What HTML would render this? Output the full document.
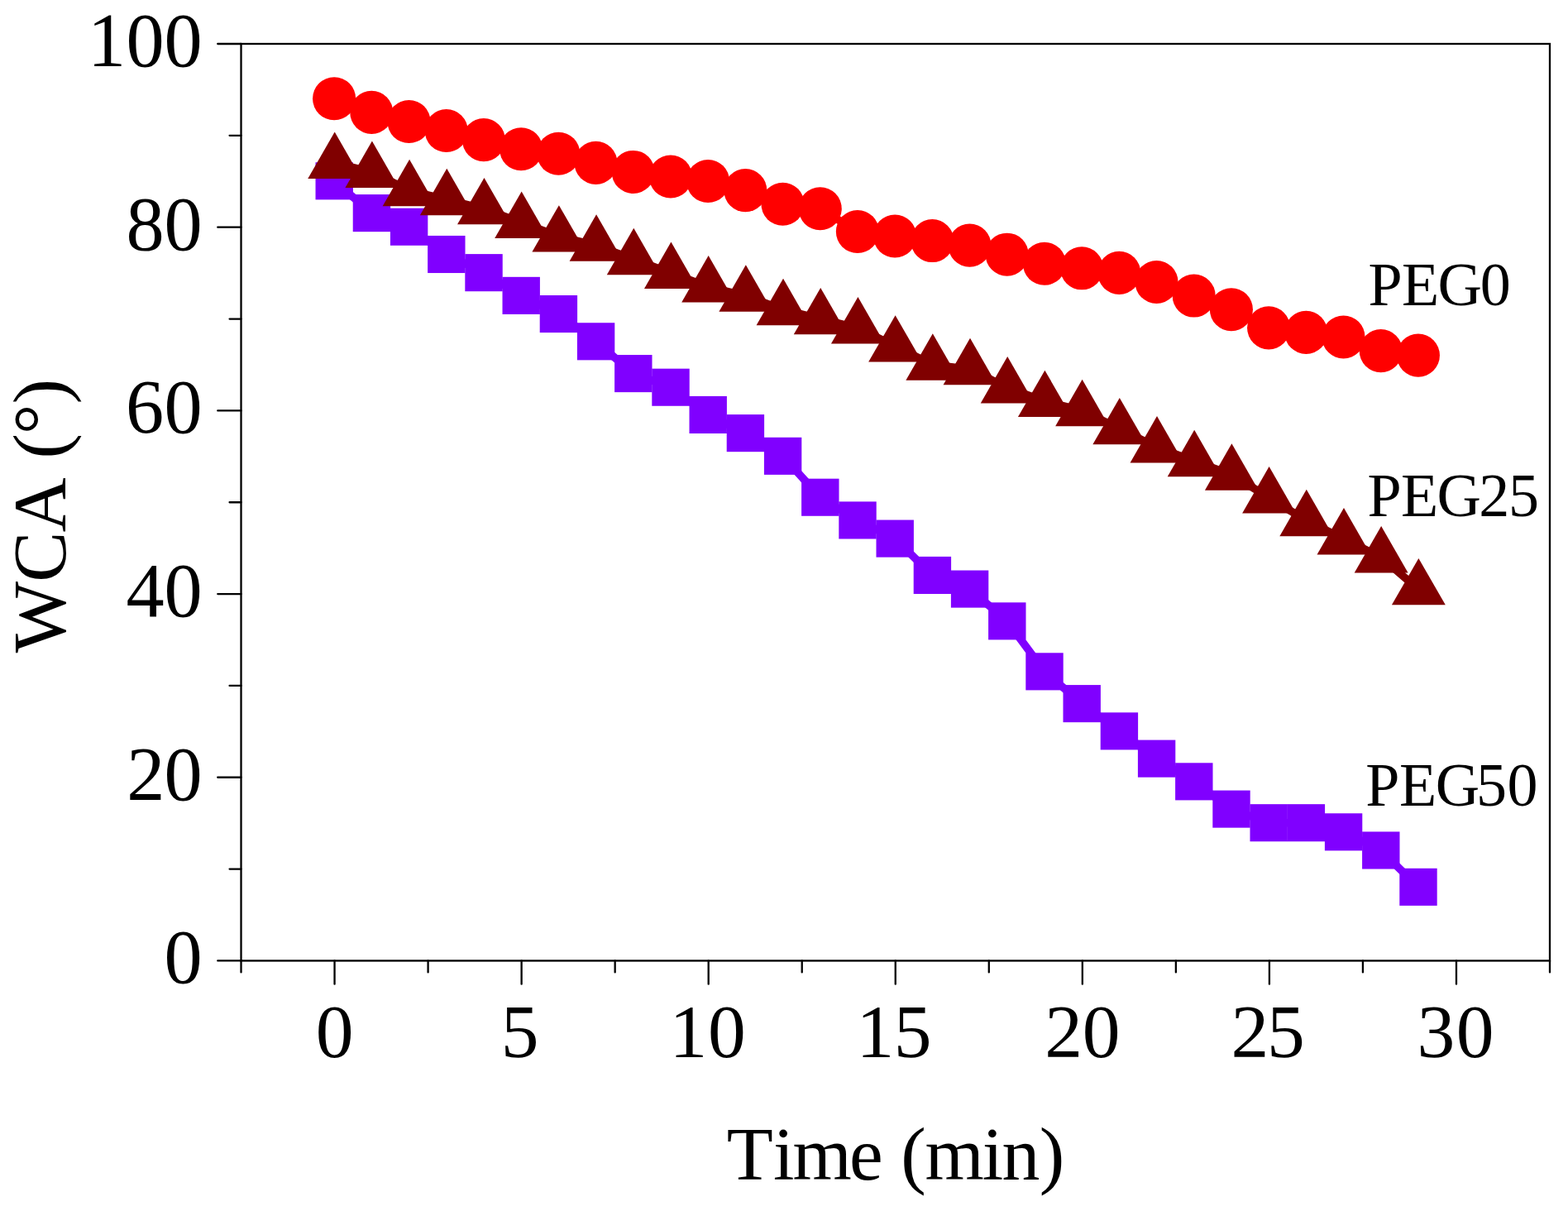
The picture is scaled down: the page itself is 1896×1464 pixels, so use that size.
<!DOCTYPE html>
<html lang="en"><head><meta charset="utf-8"><title>WCA vs Time</title>
<style>html,body{margin:0;padding:0;background:#fff;}body{width:1896px;height:1464px;overflow:hidden;}svg{display:block;}text{font-family:"Liberation Serif",serif;fill:#000;font-kerning:none;font-variant-ligatures:none;white-space:pre;}</style></head><body>
<svg width="1896" height="1464" viewBox="0 0 1896 1464">
<rect x="0" y="0" width="1896" height="1464" fill="#fff"/>
<g id="peg50" fill="#8000ff">
<polyline points="404.22,218.82 449.42,257.61 494.62,274.24 539.82,307.49 585.02,329.66 630.22,357.37 675.41,379.54 720.61,412.8 765.81,451.59 811.01,468.22 856.21,501.47 901.41,523.64 946.61,551.35 991.81,601.23 1037.01,628.94 1082.2,651.11 1127.4,695.45 1172.6,712.08 1217.8,750.87 1263,811.84 1308.2,850.63 1353.4,883.89 1398.6,917.14 1443.8,944.85 1489,978.11 1534.19,994.73 1579.39,994.73 1624.59,1005.82 1669.79,1027.99 1714.99,1072.32" fill="none" stroke="#8000ff" stroke-width="9.5" stroke-linejoin="round"/>
<rect x="381.52" y="196.27" width="45.4" height="45.1"/>
<rect x="426.72" y="235.06" width="45.4" height="45.1"/>
<rect x="471.92" y="251.69" width="45.4" height="45.1"/>
<rect x="517.12" y="284.94" width="45.4" height="45.1"/>
<rect x="562.32" y="307.11" width="45.4" height="45.1"/>
<rect x="607.51" y="334.82" width="45.4" height="45.1"/>
<rect x="652.71" y="356.99" width="45.4" height="45.1"/>
<rect x="697.91" y="390.25" width="45.4" height="45.1"/>
<rect x="743.11" y="429.04" width="45.4" height="45.1"/>
<rect x="788.31" y="445.67" width="45.4" height="45.1"/>
<rect x="833.51" y="478.92" width="45.4" height="45.1"/>
<rect x="878.71" y="501.09" width="45.4" height="45.1"/>
<rect x="923.91" y="528.8" width="45.4" height="45.1"/>
<rect x="969.11" y="578.68" width="45.4" height="45.1"/>
<rect x="1014.31" y="606.39" width="45.4" height="45.1"/>
<rect x="1059.5" y="628.56" width="45.4" height="45.1"/>
<rect x="1104.7" y="672.9" width="45.4" height="45.1"/>
<rect x="1149.9" y="689.53" width="45.4" height="45.1"/>
<rect x="1195.1" y="728.32" width="45.4" height="45.1"/>
<rect x="1240.3" y="789.29" width="45.4" height="45.1"/>
<rect x="1285.5" y="828.08" width="45.4" height="45.1"/>
<rect x="1330.7" y="861.34" width="45.4" height="45.1"/>
<rect x="1375.9" y="894.59" width="45.4" height="45.1"/>
<rect x="1421.1" y="922.3" width="45.4" height="45.1"/>
<rect x="1466.3" y="955.56" width="45.4" height="45.1"/>
<rect x="1511.49" y="972.18" width="45.4" height="45.1"/>
<rect x="1556.69" y="972.18" width="45.4" height="45.1"/>
<rect x="1601.89" y="983.27" width="45.4" height="45.1"/>
<rect x="1647.09" y="1005.44" width="45.4" height="45.1"/>
<rect x="1692.29" y="1049.77" width="45.4" height="45.1"/>
</g>
<g id="peg25" fill="#800000">
<polyline points="404.7,197.1 449.89,208.18 495.09,230.35 540.28,241.44 585.48,252.52 630.67,269.15 675.87,285.77 721.07,296.86 766.26,313.49 811.45,330.11 856.65,346.74 901.85,357.82 947.04,374.45 992.23,385.54 1037.43,396.62 1082.62,418.79 1127.82,440.96 1173.02,446.5 1218.21,468.67 1263.4,485.3 1308.6,496.38 1353.8,518.55 1398.99,540.72 1444.18,557.34 1489.38,573.97 1534.58,601.68 1579.77,629.39 1624.97,651.56 1670.16,673.73 1715.36,712.53" fill="none" stroke="#800000" stroke-width="9.5" stroke-linejoin="round" stroke-linecap="butt"/>
<polygon points="404.7,159.47 437.15,215.92 372.25,215.92"/>
<polygon points="449.89,170.55 482.34,227 417.44,227"/>
<polygon points="495.09,192.72 527.54,249.17 462.64,249.17"/>
<polygon points="540.28,203.8 572.74,260.25 507.83,260.25"/>
<polygon points="585.48,214.89 617.93,271.34 553.03,271.34"/>
<polygon points="630.67,231.51 663.12,287.96 598.22,287.96"/>
<polygon points="675.87,248.14 708.32,304.59 643.42,304.59"/>
<polygon points="721.07,259.23 753.52,315.68 688.62,315.68"/>
<polygon points="766.26,275.85 798.71,332.3 733.81,332.3"/>
<polygon points="811.45,292.48 843.9,348.93 779,348.93"/>
<polygon points="856.65,309.11 889.1,365.56 824.2,365.56"/>
<polygon points="901.85,320.19 934.3,376.64 869.39,376.64"/>
<polygon points="947.04,336.82 979.49,393.27 914.59,393.27"/>
<polygon points="992.23,347.9 1024.68,404.35 959.78,404.35"/>
<polygon points="1037.43,358.99 1069.88,415.44 1004.98,415.44"/>
<polygon points="1082.62,381.16 1115.08,437.61 1050.17,437.61"/>
<polygon points="1127.82,403.32 1160.27,459.77 1095.37,459.77"/>
<polygon points="1173.02,408.87 1205.47,465.32 1140.57,465.32"/>
<polygon points="1218.21,431.04 1250.66,487.49 1185.76,487.49"/>
<polygon points="1263.4,447.66 1295.86,504.11 1230.95,504.11"/>
<polygon points="1308.6,458.75 1341.05,515.2 1276.15,515.2"/>
<polygon points="1353.8,480.92 1386.25,537.37 1321.35,537.37"/>
<polygon points="1398.99,503.08 1431.44,559.53 1366.54,559.53"/>
<polygon points="1444.18,519.71 1476.63,576.16 1411.73,576.16"/>
<polygon points="1489.38,536.34 1521.83,592.79 1456.93,592.79"/>
<polygon points="1534.58,564.05 1567.03,620.5 1502.12,620.5"/>
<polygon points="1579.77,591.76 1612.22,648.21 1547.32,648.21"/>
<polygon points="1624.97,613.93 1657.42,670.38 1592.52,670.38"/>
<polygon points="1670.16,636.1 1702.61,692.55 1637.71,692.55"/>
<polygon points="1715.36,674.89 1747.81,731.34 1682.9,731.34"/>
</g>
<g id="peg0" fill="#ff0000">
<polyline points="404.1,119.26 449.3,135.88 494.5,146.97 539.7,158.05 584.9,169.14 630.1,180.22 675.3,185.76 720.5,196.85 765.7,207.93 810.9,213.48 856.1,219.02 901.3,230.1 946.5,246.73 991.7,252.27 1036.9,279.98 1082.1,285.52 1127.3,291.07 1172.5,296.61 1217.7,307.69 1262.9,318.78 1308.1,324.32 1353.3,329.86 1398.5,340.95 1443.7,357.57 1488.9,374.2 1534.1,396.37 1579.3,401.91 1624.5,407.45 1669.7,424.08 1714.9,429.62" fill="none" stroke="#ff0000" stroke-width="9.5" stroke-linejoin="round" stroke-linecap="butt"/>
<circle cx="404.1" cy="119.26" r="26.05"/>
<circle cx="449.3" cy="135.88" r="26.05"/>
<circle cx="494.5" cy="146.97" r="26.05"/>
<circle cx="539.7" cy="158.05" r="26.05"/>
<circle cx="584.9" cy="169.14" r="26.05"/>
<circle cx="630.1" cy="180.22" r="26.05"/>
<circle cx="675.3" cy="185.76" r="26.05"/>
<circle cx="720.5" cy="196.85" r="26.05"/>
<circle cx="765.7" cy="207.93" r="26.05"/>
<circle cx="810.9" cy="213.48" r="26.05"/>
<circle cx="856.1" cy="219.02" r="26.05"/>
<circle cx="901.3" cy="230.1" r="26.05"/>
<circle cx="946.5" cy="246.73" r="26.05"/>
<circle cx="991.7" cy="252.27" r="26.05"/>
<circle cx="1036.9" cy="279.98" r="26.05"/>
<circle cx="1082.1" cy="285.52" r="26.05"/>
<circle cx="1127.3" cy="291.07" r="26.05"/>
<circle cx="1172.5" cy="296.61" r="26.05"/>
<circle cx="1217.7" cy="307.69" r="26.05"/>
<circle cx="1262.9" cy="318.78" r="26.05"/>
<circle cx="1308.1" cy="324.32" r="26.05"/>
<circle cx="1353.3" cy="329.86" r="26.05"/>
<circle cx="1398.5" cy="340.95" r="26.05"/>
<circle cx="1443.7" cy="357.57" r="26.05"/>
<circle cx="1488.9" cy="374.2" r="26.05"/>
<circle cx="1534.1" cy="396.37" r="26.05"/>
<circle cx="1579.3" cy="401.91" r="26.05"/>
<circle cx="1624.5" cy="407.45" r="26.05"/>
<circle cx="1669.7" cy="424.08" r="26.05"/>
<circle cx="1714.9" cy="429.62" r="26.05"/>
</g>
<g id="axes" stroke="#000" stroke-width="2.3" fill="none">
<rect x="291.52" y="53" width="1582.48" height="1108.45"/>
</g>
<g id="ticks" stroke="#000" stroke-width="2.3" fill="none" stroke-linecap="round">
<line x1="263.27" y1="1161.45" x2="291.52" y2="1161.45"/>
<line x1="277.57" y1="1050.61" x2="291.52" y2="1050.61"/>
<line x1="263.27" y1="939.76" x2="291.52" y2="939.76"/>
<line x1="277.57" y1="828.91" x2="291.52" y2="828.91"/>
<line x1="263.27" y1="718.07" x2="291.52" y2="718.07"/>
<line x1="277.57" y1="607.23" x2="291.52" y2="607.23"/>
<line x1="263.27" y1="496.38" x2="291.52" y2="496.38"/>
<line x1="277.57" y1="385.54" x2="291.52" y2="385.54"/>
<line x1="263.27" y1="274.69" x2="291.52" y2="274.69"/>
<line x1="277.57" y1="163.85" x2="291.52" y2="163.85"/>
<line x1="263.27" y1="53" x2="291.52" y2="53"/>
<line x1="291.52" y1="1161.45" x2="291.52" y2="1175.4"/>
<line x1="404.55" y1="1161.45" x2="404.55" y2="1189.7"/>
<line x1="517.59" y1="1161.45" x2="517.59" y2="1175.4"/>
<line x1="630.62" y1="1161.45" x2="630.62" y2="1189.7"/>
<line x1="743.66" y1="1161.45" x2="743.66" y2="1175.4"/>
<line x1="856.69" y1="1161.45" x2="856.69" y2="1189.7"/>
<line x1="969.73" y1="1161.45" x2="969.73" y2="1175.4"/>
<line x1="1082.76" y1="1161.45" x2="1082.76" y2="1189.7"/>
<line x1="1195.79" y1="1161.45" x2="1195.79" y2="1175.4"/>
<line x1="1308.83" y1="1161.45" x2="1308.83" y2="1189.7"/>
<line x1="1421.86" y1="1161.45" x2="1421.86" y2="1175.4"/>
<line x1="1534.9" y1="1161.45" x2="1534.9" y2="1189.7"/>
<line x1="1647.93" y1="1161.45" x2="1647.93" y2="1175.4"/>
<line x1="1760.97" y1="1161.45" x2="1760.97" y2="1189.7"/>
<line x1="1874" y1="1161.45" x2="1874" y2="1175.4"/>
</g>
<g id="yticks">
<text x="198.53" y="1188.35" font-size="92.3">0</text>
<text x="153.14 198.53" y="966.66" font-size="92.3">20</text>
<text x="152.44 198.53" y="744.97" font-size="92.3">40</text>
<text x="152.02 198.53" y="523.28" font-size="92.3">60</text>
<text x="152.62 198.53" y="301.59" font-size="92.3">80</text>
<text x="106.09 152.53 198.62" y="79.9" font-size="92.3">100</text>
</g>
<g id="xticks">
<text x="381.65" y="1277.6" font-size="91.6">0</text>
<text x="605.65" y="1277.6" font-size="91.6">5</text>
<text x="809.42 855.89" y="1277.6" font-size="91.6">10</text>
<text x="1035.39 1080.79" y="1277.6" font-size="91.6">15</text>
<text x="1263.24 1308.83" y="1277.6" font-size="91.6">20</text>
<text x="1488.41 1531.92" y="1277.6" font-size="91.6">25</text>
<text x="1713.56 1760.77" y="1277.6" font-size="91.6">30</text>
</g>
<g id="titles">
<text x="878.78 935.02 958.54 1027 1067.7 1089.19 1118.49 1187.77 1211.62 1256.67" y="1425.9" font-size="91.7">Time (min)</text>
<text x="-789.28 -703.73 -643.42 -577.2 -554.56 -525.14 -488.48" y="0" font-size="91.7" transform="translate(78.75,0) rotate(-90)">WCA (°)</text>
</g>
<g id="labels">
<text x="1654.39 1694.93 1738.52 1789.75" y="369.45" font-size="74">PEG0</text>
<text x="1653.44 1693.93 1737.42 1788.17 1823.9" y="623.9" font-size="74">PEG25</text>
<text x="1651.29 1691.93 1735.72 1785.05 1822.6" y="973.7" font-size="74">PEG50</text>
</g>
</svg></body></html>
